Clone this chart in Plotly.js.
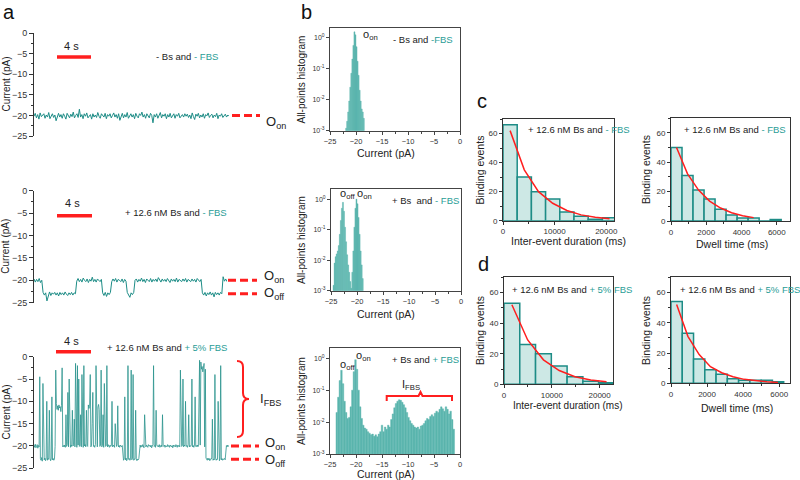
<!DOCTYPE html>
<html>
<head>
<meta charset="utf-8">
<script src="https://cdn.plot.ly/plotly-3.0.1.min.js"></script>
<style>html,body{margin:0;padding:0;background:#fff;}#chart{width:800px;height:480px;}</style>
</head>
<body>
<div id="chart"></div>
<script>
// ---------------- DATA ----------------
// Panel a: current traces (pA), uniformly sampled over ~23 s
const traceA1 = [-20.2,-19.5,-20.6,-19.8,-20.9,-19.4,-20.3,-20.0,-19.6,-20.7,-19.9,-20.4,-19.3,-20.8,-20.1,-19.6,-20.5,-19.9,-21.3,-20.2,-19.5,-20.4,-19.8,-20.7,-19.6,-20.2,-20.9,-19.5,-20.1,-20.6,-19.7,-20.3,-19.2,-20.6,-20.0,-19.6,-20.5,-18.5,-20.4,-19.8,-20.8,-19.6,-20.2,-19.4,-20.6,-20.0,-19.8,-20.9,-19.6,-20.4,-19.9,-20.5,-19.3,-20.2,-20.7,-19.6,-20.0,-20.4,-19.5,-20.8,-19.8,-20.2,-19.6,-20.6,-20.0,-19.4,-20.4,-19.8,-20.7,-19.6,-21.2,-20.2,-19.5,-20.6,-19.8,-20.4,-19.3,-20.7,-20.0,-19.6,-20.4,-19.8,-20.8,-19.5,-20.2,-20.6,-19.6,-20.0,-19.2,-20.4,-19.8,-20.7,-19.6,-20.2,-20.6,-19.5,-20.0,-21.8,-19.8,-20.4,-19.6,-20.7,-20.0,-19.3,-20.6,-19.8,-20.2,-19.6,-20.8,-19.8,-20.4,-19.5,-20.6,-20.0,-19.6,-20.7,-19.8,-20.2,-19.5,-20.6,-20.0,-19.8,-20.4,-19.6,-20.2,-19.7,-20.5,-19.9,-20.8,-19.4,-20.3,-21.0,-19.7,-20.2,-19.5,-20.6,-19.9,-20.4,-19.6,-20.7,-19.8,-20.1,-19.4,-20.5,-20.0,-19.7,-20.6,-19.9,-20.3,-19.5,-20.8,-19.9,-20.2,-19.6,-20.5,-20.0,-19.7,-20.4,-19.9,-20.2];

const traceA2 = [-19.7,-20.4,-19.8,-20.3,-19.6,-20.5,-20.0,
 -22.7,-23.3,-22.8,-24.6,-23.2,-22.6,-23.4,-22.8,-23.1,-22.7,-23.3,-22.8,-23.5,-22.7,-23.2,-22.8,-23.3,-22.6,-23.1,-23.4,-22.8,-23.2,-22.7,-23.3,-22.8,-23.0,
 -20.2,-19.6,-20.3,-19.8,-20.4,-19.5,-20.0,-20.3,-19.7,-20.5,-19.8,-20.2,-19.3,-20.3,-19.8,-20.4,-19.7,-20.0,-20.3,-19.8,
 -22.8,-23.4,-22.7,-23.6,-22.8,-23.2,-22.7,
 -20.3,-19.7,-20.2,-19.6,-20.4,-19.8,-20.0,-20.3,-19.7,-20.5,-19.8,-20.2,
 -22.7,-23.3,-23.8,-22.8,-23.2,-22.7,
 -20.0,-19.7,-20.4,-19.8,-20.2,-19.5,-20.3,-19.8,-20.5,-19.7,-20.0,-20.3,-19.6,-20.4,-19.8,-20.2,-19.7,-20.3,-19.4,-20.0,-20.4,-19.7,-20.2,-19.8,-20.3,-19.6,-20.0,-20.5,-19.7,-20.2,-19.8,-20.3,-19.5,-20.4,-19.8,-20.0,-20.3,-19.7,-20.2,-19.6,-20.4,-19.8,-20.0,-20.3,-19.7,-20.2,-19.8,-20.4,-19.6,-20.0,-20.3,-19.8,
 -22.8,-23.3,-22.7,-23.5,-22.8,-23.2,-22.6,-23.3,-22.8,-23.7,-22.7,-23.2,-22.8,-23.3,-22.7,-23.0,
 -19.2,-20.2,-19.7,-20.3];

const traceA3 = [-19.8,-20.3,-19.6,-20.4,-20.1,-19.7,-20.5,-19.9,-20.2,
 -4.5,-22.8,-23.2,-22.6,-23.4,-6,-22.9,-23.1,-22.7,-23.3,-22.9,-10,-23.2,-22.8,-23.0,-12,-22.7,-23.3,-22.9,-9,-23.1,-22.8,-23.2,-22.9,
 -20.1,-3,-10.5,-11.8,-11,-12,-10.8,-11.5,-11.2,-12.3,-10.9,-2.5,-20.2,
 -19.9,-20.2,-19.8,-20.3,-13,-20.1,-19.7,-8,-20.2,-5,-19.9,-20.3,-19.8,-20.1,-12,-20.0,-19.7,-14,-20.2,-1.5,-19.9,-20.3,-2,-19.8,-5,-20.1,-19.9,-13,-20.2,-4,-19.8,-20.3,-2,-20.0,-19.7,-20.2,-12,-19.9,-20.1,-10.8,-11.6,-11.1,-4,-20.2,-19.8,-15,-8,-20.1,-19.9,-20.3,-19.7,-2,-20.0,-20.2,-11.3,-10.7,-11.8,-20.1,-19.8,-3,-20.2,-19.9,-13,-20.3,-6,-19.8,-20.1,-19.9,-2,-20.2,-19.7,-20.0,-20.3,-19.8,-20.1,-19.9,-10,-20.2,-19.8,-20.0,-20.3,-15,-19.9,-20.1,-19.7,-11,-20.2,-19.9,-20.3,-19.8,-20.0,-20.2,-19.9,
 -22.8,-23.2,-22.9,-9,-23.1,-22.7,-23.3,-22.9,-2,-23.0,-22.8,-23.2,-22.9,-3,-23.1,-22.7,-4,-23.2,-22.9,-23.0,-12,-22.8,-23.3,-22.9,-23.1,-22.8,
 -20.1,-19.8,-20.3,-19.9,-20.2,-19.7,-20.0,-20.4,-13,-19.9,-20.2,-19.8,-20.1,-20.3,-19.7,-20.0,-19.9,-20.2,-19.8,-20.4,-20.0,-19.7,-2,-20.1,-19.9,-20.3,-12,-19.8,-20.1,-19.9,-20.2,-19.7,-20.3,-20.0,-19.8,-20.2,-13,-19.9,-20.1,-19.8,-20.3,-19.9,-20.0,-20.2,-19.7,-20.1,-19.9,-20.3,-19.8,-20.0,-20.2,-19.9,-20.4,-19.8,-20.1,-19.9,-20.2,-19.7,-20.0,-20.3,-19.8,-20.1,-19.9,-20.2,-3,-19.8,-20.1,-19.9,-5,-20.2,-19.8,-20.0,-10,-20.1,-19.9,-20.3,-19.7,-13,-20.2,-19.9,-20.1,-19.8,-5,-20.2,-19.9,-20.3,-19.8,-9,-20.1,-19.9,-20.2,-19.8,
 -20.1,-3.5,-0.8,-19.8,-1.2,-2.8,-2.2,-3.4,-2.5,-1.5,-20.2,-2.8,-22.7,
 -22.9,-23.2,-22.7,-23.1,-22.8,-23.3,-22.9,-23.0,-22.7,-14,-23.2,-22.9,-23.1,-4,-22.8,-23.2,-22.9,-23.0,-10,-22.8,-23.3,-22.9,-2,-23.1,-22.8,-23.2,-22.9,-23.0,-22.8,-23.1,
 -20.6,-19.9,-20.2,-19.8,-20.1,-19.9];

const levelsA = {on: -20, off: -23};   // open-state levels marked by dashed lines

// Panel b: all-points histograms (normalised counts)
const histB1Start = -21.9, histB1Step = 0.2;
const histB1 = [0.0012,0.002,0.004,0.009,0.025,0.07,0.2,0.55,1.5,1.2,0.5,0.17,0.06,0.02,0.009,0.005,0.004,0.0025];
const histB2Start = -24.5, histB2Step = 0.2;
const histB2 = [0.0015,0.008,0.013,0.016,0.02,0.03,0.07,0.2,0.5,0.78,0.4,0.12,0.04,0.015,0.007,0.004,0.002,0.0012,0.004,0.02,0.12,0.5,1.0,0.7,0.25,0.07,0.02,0.007,0.0025];
const histB3Start = -23.7, histB3Step = 0.3;
const histB3 = [0.02,0.06,0.2,0.42,0.16,0.045,0.02,0.013,0.014,0.03,0.1,0.38,0.9,0.45,0.1,0.03,0.013,0.008,0.0065,0.006,
 0.005,0.0045,0.004,0.0042,0.0036,0.004,0.0035,0.0042,0.005,0.008,0.005,0.007,0.006,0.008,0.007,0.012,0.018,0.028,0.038,0.045,
 0.05,0.048,0.042,0.035,0.028,0.02,0.014,0.011,0.009,0.008,0.007,0.0065,0.007,0.006,0.0075,0.008,0.009,0.011,0.013,0.012,
 0.015,0.017,0.015,0.019,0.022,0.02,0.025,0.03,0.026,0.022,0.03,0.025,0.018,0.022,0.012,0.006];

// Panels c, d: binding-event histograms and exponential fits
const interBinW_c = 2750, interStart_c = 1375;
const interCounts_c = [66,30,20,15,6,3,1,2];
const interFit_c = [62,35,20,12,7,4,2.3,1.3];
const dwellBinW = 625, dwellStart = 312.5;
const dwellCounts_c = [50,31,21,15,8,4,2,2,0,1];
const dwellFit_c = [50,32,21,13.5,8.8,5.6,3.6,2.3];
const interBinW_d = 3300, interStart_d = 1650;
const interCounts_d = [53,26,20,12,5,2,1];
const interFit_d = [52,29,16,9,5,2.8,1.6];
const dwellCounts_d = [54,33,16,9,6,3,2,2,2,1];
const dwellFit_d = [52,31,19,11,7,4.3,2.6,1.6,1.0,0.6];

const logTickVals = [0.001,0.01,0.1,1];
const logTickText = ['10<sup>-3</sup>','10<sup>-2</sup>','10<sup>-1</sup>','10<sup>0</sup>'];

// ---------------- STYLE / LAYOUT HELPERS ----------------
const W = 800, H = 480;
const PX = x => x / W, PY = y => 1 - y / H;
const xd = (a, b) => [a / W, b / W];
const yd = (top, bot) => [1 - bot / H, 1 - top / H];
const TEAL = '#1d8c86', TEXT_TEAL = '#2a9d96', RED = '#ff1f1f', DARK = '#333';
const FONT = 'Liberation Sans, Arial, Helvetica, sans-serif';

function aY(domain, anchor) {
  return {domain, anchor, range:[-25,0], showline:true, linecolor:DARK, linewidth:1,
    ticks:'outside', ticklen:4, tickcolor:DARK, tick0:0, dtick:5,
    minor:{dtick:2.5, ticks:'outside', ticklen:2, tickcolor:DARK},
    tickfont:{size:9, color:DARK}, showgrid:false, zeroline:false};
}
function aX(domain, anchor, n) {
  return {domain, anchor, range:[0, n-1], visible:false, showgrid:false, zeroline:false};
}
function bX(domain, anchor) {
  return {domain, anchor, range:[-25,0], dtick:5, tick0:0, showline:true, mirror:true, linecolor:'#444', linewidth:1,
    ticks:'outside', ticklen:3, tickcolor:'#444', minor:{dtick:2.5, ticks:'outside', ticklen:2, tickcolor:'#444'},
    tickfont:{size:7.5, color:DARK}, showgrid:false, zeroline:false};
}
function bY(domain, anchor, top) {
  return {domain, anchor, type:'log', range:[-3, top], tickvals:logTickVals, ticktext:logTickText,
    showline:true, mirror:true, linecolor:'#444', linewidth:1, ticks:'outside', ticklen:3, tickcolor:'#444',
    tickfont:{size:7, color:DARK}, showgrid:false, zeroline:false};
}
function cX(domain, anchor, rng, dt) {
  return {domain, anchor, range:rng, dtick:dt, tick0:0, tickformat:'d', showline:true, mirror:true,
    linecolor:DARK, linewidth:1, ticks:'outside', ticklen:3, tickcolor:DARK,
    minor:{dtick:dt/2, ticks:'outside', ticklen:2, tickcolor:DARK},
    tickfont:{size:8, color:DARK}, showgrid:false, zeroline:false};
}
function cY(domain, anchor) {
  return {domain, anchor, range:[0,70], dtick:20, tick0:0, showline:true, mirror:true,
    linecolor:DARK, linewidth:1, ticks:'outside', ticklen:3, tickcolor:DARK,
    minor:{dtick:10, ticks:'outside', ticklen:2, tickcolor:DARK},
    tickfont:{size:8, color:DARK}, showgrid:false, zeroline:false};
}

// ---------------- TRACES ----------------
const traces = [
  {type:'scatter', mode:'lines', y:traceA1, xaxis:'x', yaxis:'y', line:{color:TEAL, width:1}},
  {type:'scatter', mode:'lines', y:traceA2, xaxis:'x2', yaxis:'y2', line:{color:TEAL, width:1}},
  {type:'scatter', mode:'lines', y:traceA3, xaxis:'x3', yaxis:'y3', line:{color:'#2a938d', width:0.8}},
  {type:'bar', x0:histB1Start, dx:histB1Step, width:histB1Step, y:histB1, xaxis:'x4', yaxis:'y4', marker:{color:'#5bb5ae', line:{color:'#5bb5ae', width:0.4}}},
  {type:'bar', x0:histB2Start, dx:histB2Step, width:histB2Step, y:histB2, xaxis:'x5', yaxis:'y5', marker:{color:'#5bb5ae', line:{color:'#5bb5ae', width:0.4}}},
  {type:'bar', x0:histB3Start, dx:histB3Step, width:histB3Step, y:histB3, xaxis:'x6', yaxis:'y6', marker:{color:'#5bb5ae', line:{color:'#5bb5ae', width:0.4}}},
  {type:'bar', x0:interStart_c, dx:interBinW_c, width:interBinW_c, y:interCounts_c, xaxis:'x7', yaxis:'y7', marker:{color:'#cde8e5', line:{color:TEAL, width:1.5}}},
  {type:'scatter', mode:'lines', x0:interStart_c, dx:interBinW_c, y:interFit_c, xaxis:'x7', yaxis:'y7', line:{color:RED, width:1.5}},
  {type:'bar', x0:dwellStart, dx:dwellBinW, width:dwellBinW, y:dwellCounts_c, xaxis:'x8', yaxis:'y8', marker:{color:'#cde8e5', line:{color:TEAL, width:1.5}}},
  {type:'scatter', mode:'lines', x0:dwellStart, dx:dwellBinW, y:dwellFit_c, xaxis:'x8', yaxis:'y8', line:{color:RED, width:1.5}},
  {type:'bar', x0:interStart_d, dx:interBinW_d, width:interBinW_d, y:interCounts_d, xaxis:'x9', yaxis:'y9', marker:{color:'#cde8e5', line:{color:TEAL, width:1.5}}},
  {type:'scatter', mode:'lines', x0:interStart_d, dx:interBinW_d, y:interFit_d, xaxis:'x9', yaxis:'y9', line:{color:RED, width:1.5}},
  {type:'bar', x0:dwellStart, dx:dwellBinW, width:dwellBinW, y:dwellCounts_d, xaxis:'x10', yaxis:'y10', marker:{color:'#cde8e5', line:{color:TEAL, width:1.5}}},
  {type:'scatter', mode:'lines', x0:dwellStart, dx:dwellBinW, y:dwellFit_d, xaxis:'x10', yaxis:'y10', line:{color:RED, width:1.5}}
];

// ---------------- SHAPES ----------------
const P = (x, y) => `${PX(x)},${PY(y)}`;
function hbar(x0, x1, y) {
  return {type:'line', xref:'paper', yref:'paper', x0:PX(x0), x1:PX(x1), y0:PY(y), y1:PY(y), line:{color:RED, width:3.5}};
}
function lvl(yref, level, x0, x1) {
  return {type:'line', xref:'paper', yref, x0:PX(x0), x1:PX(x1), y0:level, y1:level, line:{color:RED, width:3, dash:'8px,4px'}};
}
const shapes = [
  hbar(57, 91, 57), hbar(57, 92, 215.7), hbar(56, 91, 351.7),
  lvl('y', levelsA.on, 232, 260),
  lvl('y2', levelsA.on, 228, 257), lvl('y2', levelsA.off, 228, 257),
  lvl('y3', levelsA.on, 231, 259), lvl('y3', levelsA.off, 231, 259),
  {type:'path', xref:'paper', yref:'paper', line:{color:RED, width:2},
   path:`M ${P(237,361)} Q ${P(243,361)} ${P(243,367)} L ${P(243,393)} Q ${P(243,399)} ${P(249,399)} Q ${P(243,399)} ${P(243,405)} L ${P(243,431)} Q ${P(243,437)} ${P(237,437)}`},
  {type:'path', xref:'paper', yref:'paper', line:{color:RED, width:2},
   path:`M ${P(386.7,401)} L ${P(386.7,396)} L ${P(418.5,396)} L ${P(420.5,392)} L ${P(422.5,396)} L ${P(452,396)} L ${P(452,401)}`}
];

// ---------------- ANNOTATIONS ----------------
function T(text, x, y, opt) {
  return Object.assign({text, x:PX(x), y:PY(y), xref:'paper', yref:'paper', showarrow:false,
    xanchor:'center', yanchor:'middle', font:{size:9.5, color:'#222', family:FONT}}, opt || {});
}
const tl = s => `<span style="color:${TEXT_TEAL}">${s}</span>`;
const L = {xanchor:'left'};
const rot = {textangle:-90, font:{size:10, color:'#222', family:FONT}};
const rotC = {textangle:-90, font:{size:10.5, color:'#222', family:FONT}};
const big = {xanchor:'left', font:{size:13, color:'#222', family:FONT}};
const sm = {xanchor:'left', font:{size:11, color:'#222', family:FONT}};
const letter = {font:{size:20, color:'#111', family:FONT}};
const ttl = {font:{size:10.5, color:'#222', family:FONT}};
const ttlD = {font:{size:10, color:'#222', family:FONT}};
const fourS = {font:{size:11, color:'#222', family:FONT}};

const annotations = [
  T('a', 9, 12, letter), T('b', 306, 12, letter), T('c', 482, 101, letter), T('d', 483, 264, letter),
  // panel a
  T('Current (pA)', 6, 84.5, rot), T('Current (pA)', 6, 246.7, rot), T('Current (pA)', 6, 412.5, rot),
  T('4 s', 71, 46, fourS), T('4 s', 72, 203, fourS), T('4 s', 71, 340.5, fourS),
  T('- Bs and ' + tl('- FBS'), 186.5, 56),
  T('+ 12.6 nM Bs and ' + tl('- FBS'), 176, 212.3),
  T('+ 12.6 nM Bs and ' + tl('+ 5% FBS'), 166.5, 347.3),
  T('O<sub>on</sub>', 264, 122, big),
  T('O<sub>on</sub>', 262, 276, big), T('O<sub>off</sub>', 262, 293, big),
  T('O<sub>on</sub>', 263, 443, big), T('O<sub>off</sub>', 263, 460, big),
  T('I<sub>FBS</sub>', 258, 399, big),
  // panel b
  T('All-points histogram', 301, 79.5, rot), T('All-points histogram', 301, 240, rot), T('All-points histogram', 301, 401, rot),
  T('Current (pA)', 386, 153, ttl), T('Current (pA)', 386, 313.5, ttl), T('Current (pA)', 386, 474, ttl),
  T('o<sub>on</sub>', 361, 35, sm),
  T('o<sub>off</sub>', 337.5, 194, sm), T('o<sub>on</sub>', 355, 194, sm),
  T('o<sub>off</sub>', 337.5, 364.5, sm), T('o<sub>on</sub>', 354, 355.5, sm),
  T('I<sub>FBS</sub>', 400, 384.5, sm),
  T('- Bs and ' + tl('-FBS'), 390.5, 39.3, L),
  T('+ Bs  and ' + tl('- FBS'), 390, 200.7, L),
  T('+ Bs and ' + tl('+ FBS'), 390, 359.3, L),
  // panels c, d
  T('Binding events', 479.5, 170, rotC), T('Binding events', 646, 170, rotC),
  T('Binding events', 480, 331, rotC), T('Binding events', 646, 331, rotC),
  T('Inter-event duration (ms)', 568, 241, ttl), T('Dwell time (ms)', 732, 244, ttl),
  T('Inter-event duration (ms)', 568, 405.5, ttlD), T('Dwell time (ms)', 737, 407.5, ttl),
  T('+ 12.6 nM Bs and ' + tl('- FBS'), 525.5, 130, L),
  T('+ 12.6 nM Bs and ' + tl('- FBS'), 681.5, 129, L),
  T('+ 12.6 nM Bs and ' + tl('+ 5% FBS'), 510, 289, L),
  T('+ 12.6 nM Bs and ' + tl('+ 5% FBS'), 678, 289, L)
];

const layout = {
  width:W, height:H, margin:{l:0, r:0, t:0, b:0}, paper_bgcolor:'#fff', plot_bgcolor:'rgba(0,0,0,0)',
  showlegend:false, bargap:0, barmode:'overlay', font:{family:FONT, color:'#222'},
  xaxis: aX(xd(34,229), 'y', traceA1.length),  yaxis: aY(yd(33,136), 'x'),
  xaxis2: aX(xd(34,227), 'y2', traceA2.length), yaxis2: aY(yd(190.7,302.7), 'x2'),
  xaxis3: aX(xd(34,229), 'y3', traceA3.length), yaxis3: aY(yd(356.7,468.3), 'x3'),
  xaxis4: bX(xd(330,460), 'y4'), yaxis4: bY(yd(28,130.7), 'x4', 0.3),
  xaxis5: bX(xd(331,461), 'y5'), yaxis5: bY(yd(189,290.7), 'x5', 0.33),
  xaxis6: bX(xd(330,460), 'y6'), yaxis6: bY(yd(348,454), 'x6', 0.32),
  xaxis7: cX(xd(503,614), 'y7', [0,21500], 10000), yaxis7: cY(yd(119,220.7), 'x7'),
  xaxis8: cX(xd(671,790), 'y8', [0,6750], 2000), yaxis8: cY(yd(118,221), 'x8'),
  xaxis9: cX(xd(504,613), 'y9', [0,22800], 10000), yaxis9: cY(yd(277.3,384.3), 'x9'),
  xaxis10: cX(xd(671,790), 'y10', [0,6600], 2000), yaxis10: cY(yd(277.3,383.3), 'x10'),
  shapes, annotations
};

Plotly.newPlot('chart', traces, layout, {staticPlot:true, displayModeBar:false});
</script>
</body>
</html>
